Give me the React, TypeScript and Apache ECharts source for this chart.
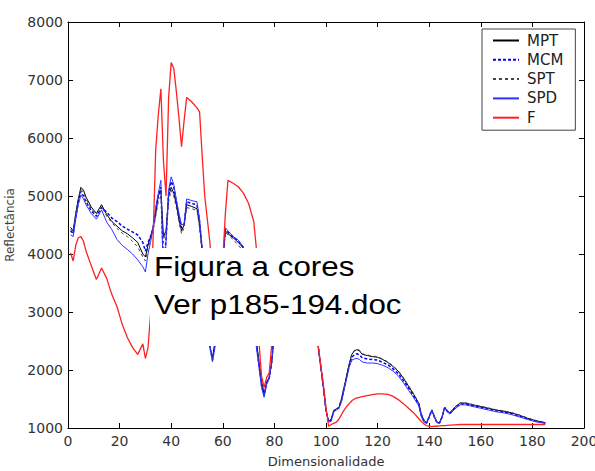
import React, { useEffect, useRef } from "react";
import * as echarts from "echarts";

// Dimensionalidade (x)
const dims = [
  1, 2, 3, 4, 5, 6, 7, 9, 11, 13,
  15, 17, 19, 21, 23, 25, 27, 29, 30, 31,
  32, 33, 34, 35, 36, 37, 38, 39, 40, 41,
  42, 43, 44, 45, 46, 48, 50, 51, 52, 53,
  54, 55, 56, 57, 58, 60, 61, 62, 64, 66,
  68, 70, 72, 73, 74, 75, 76, 77, 78, 79,
  80, 83, 86, 89, 92, 95, 97, 99, 100, 101,
  102, 103, 104, 105, 106, 107, 108, 109, 110, 111,
  112, 113, 114, 116, 118, 120, 122, 124, 126, 128,
  130, 132, 134, 136, 137, 138, 139, 140, 141, 142,
  143, 144, 145, 146, 147, 148, 150, 152, 154, 156,
  158, 160, 163, 166, 169, 172, 175, 178, 181, 185,
];

const mpt = [
  4460, 4400, 4700, 4950, 5150, 5100, 4980, 4810, 4700, 4850,
  4680, 4560, 4480, 4400, 4350, 4280, 4200, 4000, 3950, 4150,
  4300, 4450, 4700, 5000, 5100, 4300, 4400, 5000, 5150, 5050,
  4850, 4600, 4400, 4500, 4850, 4820, 4780, 4500, 4050, 3500,
  2900, 2400, 2200, 2500, 3200, 3900, 4400, 4350, 4280, 4200,
  4100, 3600, 2900, 2500, 2150, 1800, 1580, 1800, 1870, 2150,
  2700, 3300, 3600, 3700, 3500, 2950, 2400, 1700, 1300, 1120,
  1150, 1300, 1330, 1350, 1500, 1700, 1900, 2100, 2270, 2330,
  2350, 2330, 2270, 2250, 2230, 2220, 2180, 2130, 2060, 1980,
  1860, 1720, 1580, 1420, 1230, 1130, 1090, 1200, 1310, 1200,
  1100, 1090, 1200, 1360, 1300, 1260, 1360, 1430, 1430, 1410,
  1390, 1370, 1340, 1310, 1290, 1260, 1220, 1170, 1130, 1090,
];

const mcm = [
  4400, 4350, 4650, 4900, 5080, 5000, 4900, 4750, 4650, 4800,
  4720, 4620, 4560, 4480, 4430, 4380, 4330, 4200, 4050, 4200,
  4300, 4450, 4750, 5000, 5150, 3800, 4250, 5050, 5250, 5150,
  4900, 4650, 4450, 4500, 4900, 4870, 4850, 4550, 4080, 3500,
  2850, 2400, 2170, 2450, 3150, 3900, 4420, 4380, 4300, 4220,
  4110, 3600, 2900, 2450, 2100, 1750, 1560, 1780, 1860, 2150,
  2700, 3300, 3600, 3700, 3500, 2950, 2400, 1700, 1300, 1110,
  1130, 1290, 1320, 1345, 1480, 1680, 1880, 2080, 2220, 2260,
  2280, 2260, 2210, 2190, 2180, 2170, 2130, 2090, 2020, 1940,
  1820, 1690, 1550, 1400, 1210, 1110, 1085, 1190, 1305, 1190,
  1095, 1085, 1190, 1350, 1290, 1250, 1345, 1415, 1415, 1395,
  1375, 1355, 1325, 1295, 1275, 1245, 1205, 1160, 1120, 1085,
];

const spt = [
  4430, 4380, 4680, 4930, 5120, 5060, 4950, 4780, 4680, 4820,
  4650, 4540, 4440, 4360, 4300, 4220, 4120, 3950, 3880, 4100,
  4250, 4400, 4650, 4900, 5000, 4200, 4400, 4900, 5100, 5000,
  4800, 4550, 4350, 4450, 4800, 4780, 4750, 4450, 4000, 3450,
  2900, 2400, 2200, 2500, 3200, 3900, 4380, 4330, 4250, 4150,
  4050, 3600, 2900, 2500, 2150, 1800, 1600, 1800, 1880, 2150,
  2700, 3300, 3600, 3700, 3500, 2950, 2400, 1700, 1300, 1120,
  1150, 1300, 1335, 1355, 1510, 1710, 1910, 2110, 2280, 2340,
  2360, 2340, 2280, 2260, 2240, 2230, 2190, 2140, 2070, 1990,
  1870, 1730, 1590, 1430, 1240, 1135, 1095, 1205, 1315, 1205,
  1105, 1095, 1205, 1365, 1305, 1265, 1365, 1435, 1435, 1415,
  1395, 1375, 1345, 1315, 1295, 1265, 1225, 1175, 1135, 1095,
];

const spd = [
  4330, 4300, 4600, 4850, 5020, 4950, 4850, 4700, 4600, 4760,
  4550, 4420, 4250, 4150, 4080, 4000, 3900, 3780, 3690, 4000,
  4200, 4470, 4800, 5050, 5270, 3500, 4200, 5100, 5330, 5200,
  4930, 4700, 4500, 4520, 4950, 4920, 4900, 4600, 4100, 3500,
  2800, 2400, 2140, 2400, 3100, 3900, 4450, 4400, 4300, 4240,
  4120, 3600, 2900, 2400, 2050, 1700, 1530, 1750, 1850, 2150,
  2700, 3300, 3600, 3700, 3500, 2950, 2410, 1700, 1300, 1100,
  1120, 1280, 1310, 1340, 1450, 1650, 1850, 2050, 2170, 2190,
  2200, 2180, 2140, 2120, 2120, 2110, 2080, 2040, 1980, 1900,
  1780, 1650, 1520, 1380, 1190, 1100, 1080, 1180, 1300, 1180,
  1090, 1080, 1180, 1340, 1280, 1240, 1330, 1400, 1400, 1380,
  1360, 1340, 1310, 1280, 1260, 1230, 1190, 1150, 1110, 1080,
];

const fVals = [
  4020, 3880, 4150, 4280, 4300, 4220, 4050, 3800, 3560, 3760,
  3580, 3300, 3090, 2790, 2560, 2390, 2270, 2450, 2200, 2380,
  2950, 4300, 5800, 6400, 6850, 5600, 5000, 6700, 7300, 7200,
  6800, 6350, 5850, 6300, 6700, 6620, 6520, 6450, 5700, 5000,
  4600, 4200, 3500, 3000, 3200, 3900, 4700, 5270, 5220, 5160,
  5050, 4870, 4560, 4100, 2500, 1900, 1700, 1870, 1950, 2450,
  3000, 3500, 3700, 3700, 3500, 3000, 2400, 1750, 1350, 1030,
  1060, 1080, 1100, 1150, 1230, 1310, 1370, 1420, 1470, 1500,
  1520, 1530, 1540, 1560, 1575, 1590, 1590, 1580, 1545, 1490,
  1420, 1340, 1260, 1160, 1110, 1070, 1040, 1030, 1025, 1030,
  1030, 1035, 1040, 1040, 1045, 1050, 1055, 1060, 1060, 1060,
  1060, 1060, 1060, 1060, 1060, 1060, 1060, 1060, 1060, 1060,
];

const seriesNames = ["MPT", "MCM", "SPT", "SPD", "F"];

export default function App() {
  const ref = useRef<HTMLDivElement>(null);
  useEffect(() => {
    if (!ref.current) return;
    const chart = echarts.init(ref.current, null, { renderer: "svg" });
    const pair = (v: number[]) => dims.map((x, i) => [x, v[i]]);
    const labelFont = "DejaVu Sans";
    const axisCommon = {
      axisLine: { show: true, onZero: false, lineStyle: { color: "#000", width: 1 } },
      axisTick: { show: true, inside: true, length: 5, lineStyle: { color: "#000" } },
      splitLine: { show: false },
    };
    const plain = (v: number) => String(v);
    chart.setOption({
      animation: false,
      backgroundColor: "#fff",
      grid: { left: 68, right: 11, top: 22, bottom: 43, containLabel: false, outerBoundsMode: "none" },
      xAxis: [
        {
          type: "value", min: 0, max: 200, interval: 20, position: "bottom",
          ...axisCommon,
          axisLabel: { color: "#333", fontSize: 14, fontFamily: labelFont, margin: 6, formatter: plain },
          name: "Dimensionalidade", nameLocation: "middle", nameGap: 27,
          nameTextStyle: { fontSize: 13, color: "#333", fontFamily: labelFont },
        },
        {
          type: "value", min: 0, max: 200, interval: 20, position: "top",
          ...axisCommon, axisLabel: { show: false },
        },
      ],
      yAxis: [
        {
          type: "value", min: 1000, max: 8000, interval: 1000, position: "left",
          ...axisCommon,
          axisLabel: { color: "#333", fontSize: 14, fontFamily: labelFont, margin: 5, formatter: plain },
          name: "Reflectância", nameLocation: "middle", nameGap: 48,
          nameTextStyle: { fontSize: 12, color: "#444", fontFamily: labelFont },
        },
        {
          type: "value", min: 1000, max: 8000, interval: 1000, position: "right",
          ...axisCommon, axisLabel: { show: false },
        },
      ],
      legend: {
        data: seriesNames, orient: "vertical", left: 482, top: 29,
        itemWidth: 26, itemHeight: 15, itemGap: 4.3,
        padding: [4, 12, 5, 10],
        borderColor: "#444", borderWidth: 1, backgroundColor: "#fff",
        itemStyle: { color: "rgba(0,0,0,0)", borderWidth: 0, opacity: 0 },
        textStyle: { fontSize: 15, fontFamily: labelFont, color: "#222", padding: [0, 0, 0, 3] },
      },
      series: [
        { name: "MPT", type: "line", data: pair(mpt), symbol: "none", lineStyle: { color: "#000", width: 1 }, itemStyle: { color: "#000" } },
        { name: "MCM", type: "line", data: pair(mcm), symbol: "none", lineStyle: { color: "#0000ff", width: 1.5, type: [3, 2] }, itemStyle: { color: "#0000ff" } },
        { name: "SPT", type: "line", data: pair(spt), symbol: "none", lineStyle: { color: "#444", width: 1, type: [3, 3] }, itemStyle: { color: "#444" } },
        { name: "SPD", type: "line", data: pair(spd), symbol: "none", lineStyle: { color: "#3030ff", width: 1 }, itemStyle: { color: "#3030ff" } },
        { name: "F", type: "line", data: pair(fVals), symbol: "none", lineStyle: { color: "#ff2020", width: 1.3 }, itemStyle: { color: "#ff2020" } },
      ],
      graphic: [
        { type: "rect", shape: { x: 150, y: 248, width: 255, height: 98 }, style: { fill: "#fff" }, z: 100 },
        {
          type: "text", x: 154, y: 266, scaleX: 1.12, z: 101,
          style: { text: "Figura a cores", fontSize: 28, fontFamily: "Liberation Sans", fill: "#000", align: "left", verticalAlign: "middle" },
        },
        {
          type: "text", x: 154, y: 304, scaleX: 1.12, z: 101,
          style: { text: "Ver p185-194.doc", fontSize: 28, fontFamily: "Liberation Sans", fill: "#000", align: "left", verticalAlign: "middle" },
        },
      ],
    });
    return () => chart.dispose();
  }, []);
  return (
    <div
      ref={ref}
      style={{ position: "absolute", left: 0, top: 0, width: 595, height: 471, background: "#fff" }}
    />
  );
}
